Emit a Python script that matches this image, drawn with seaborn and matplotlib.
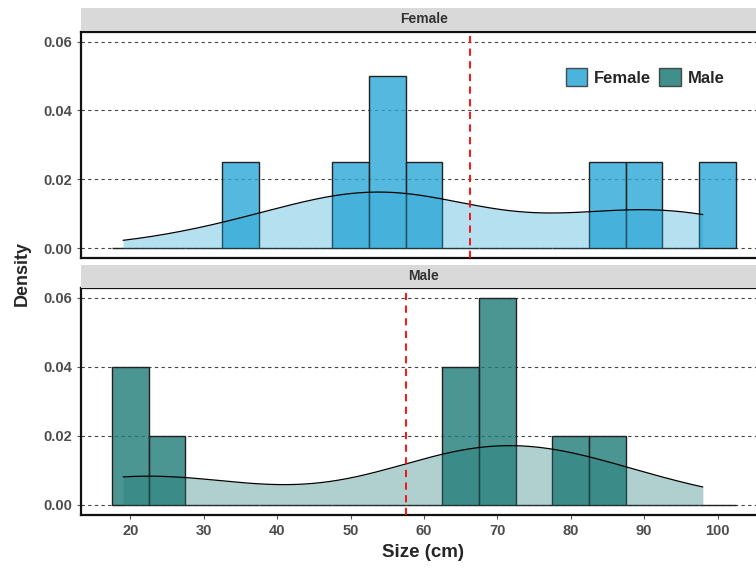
import numpy as np
import matplotlib
matplotlib.use("Agg")
import matplotlib.pyplot as plt
from matplotlib.patches import Patch
import seaborn as sns

# -----------------------------
# data (sizes in cm)
# -----------------------------
female_sizes = [35, 50, 54, 56, 60, 86, 91, 98]
male_sizes = [19, 21, 26, 65, 66, 68, 70, 72, 82, 87]
groups = ["Female", "Male"]
colors = {"Female": "#2AA7D6", "Male": "#1E7B77"}
y_ticks = [0.00, 0.02, 0.04, 0.06]
x_ticks = [20, 30, 40, 50, 60, 70, 80, 90, 100]

sizes = {"Female": female_sizes, "Male": male_sizes}
kde_range = (min(female_sizes + male_sizes), max(female_sizes + male_sizes))

sns.set_style("white")
plt.rcParams["font.family"] = ["Liberation Sans", "DejaVu Sans"]

fig = plt.figure(figsize=(7.56, 5.70), dpi=100)

# panel / strip positions in figure fractions
panels = {
    "Female": [0.107, 0.5474, 0.9076, 0.3965],
    "Male": [0.107, 0.0965, 0.9076, 0.3982],
}
strips = {
    "Female": [0.107, 0.9456, 0.9076, 0.0404],
    "Male": [0.107, 0.4950, 0.9076, 0.0404],
}

for g in groups:
    ax = fig.add_axes(panels[g])
    vals = sizes[g]

    sns.histplot(x=vals, binwidth=5, binrange=(17.5, 102.5), stat="density",
                 color=colors[g], alpha=0.8, edgecolor="#222222", linewidth=1.0,
                 ax=ax, zorder=2)
    sns.kdeplot(x=vals, fill=True, color=colors[g], alpha=0.35, linewidth=0,
                bw_adjust=0.88, cut=10, clip=kde_range, ax=ax, zorder=3)
    sns.kdeplot(x=vals, color="black", linewidth=0.9,
                bw_adjust=0.88, cut=10, clip=kde_range, ax=ax, zorder=4)
    ax.axvline(np.mean(vals), color="red", linestyle=(0, (4, 3)), linewidth=1.3, zorder=5)

    ax.set_xlim(13.25, 106.75)
    ax.set_ylim(-0.0029, 0.0628)
    ax.set_yticks(y_ticks)
    ax.set_yticklabels([f"{t:.2f}" for t in y_ticks])
    ax.yaxis.grid(True, linestyle=(0, (3, 3)), color="#444444", linewidth=0.8)
    ax.xaxis.grid(False)
    ax.set_axisbelow(True)
    ax.set_xlabel("")
    ax.set_ylabel("")
    for s in ax.spines.values():
        s.set_visible(True)
        s.set_color("#111111")
        s.set_linewidth(1.6)
    ax.tick_params(axis="y", left=True, length=3, width=0.8, color="#555555",
                   labelsize=10.5, labelcolor="#4D4D4D")
    for lab in ax.get_yticklabels():
        lab.set_fontweight("bold")
    ax.set_xticks(x_ticks)
    if g == "Male":
        ax.tick_params(axis="x", bottom=True, length=3, width=0.8, color="#555555",
                       labelsize=10.5, labelcolor="#4D4D4D")
        for lab in ax.get_xticklabels():
            lab.set_fontweight("bold")
    else:
        ax.tick_params(axis="x", bottom=False, labelbottom=False)
        handles = [Patch(facecolor=colors[k], alpha=0.85, edgecolor="#333333", label=k)
                   for k in groups]
        ax.legend(handles=handles, loc="center right", bbox_to_anchor=(0.96, 0.80),
                  ncol=2, frameon=False, handlelength=1.3, handleheight=1.3,
                  columnspacing=0.5, handletextpad=0.4,
                  prop={"weight": "bold", "size": 12})

    # facet strip
    sax = fig.add_axes(strips[g])
    sax.set_facecolor("#D9D9D9")
    sax.set_xticks([])
    sax.set_yticks([])
    for s in sax.spines.values():
        s.set_visible(False)
    sax.text(0.5, 0.5, g, ha="center", va="center", fontsize=10,
             fontweight="bold", color="#333333", transform=sax.transAxes)

fig.text(0.030, 0.52, "Density", rotation=90, ha="center", va="center",
         fontsize=13, fontweight="bold")
fig.text(0.559, 0.031, "Size (cm)", ha="center", va="center",
         fontsize=13.5, fontweight="bold")

fig.savefig("out.png", dpi=100)
